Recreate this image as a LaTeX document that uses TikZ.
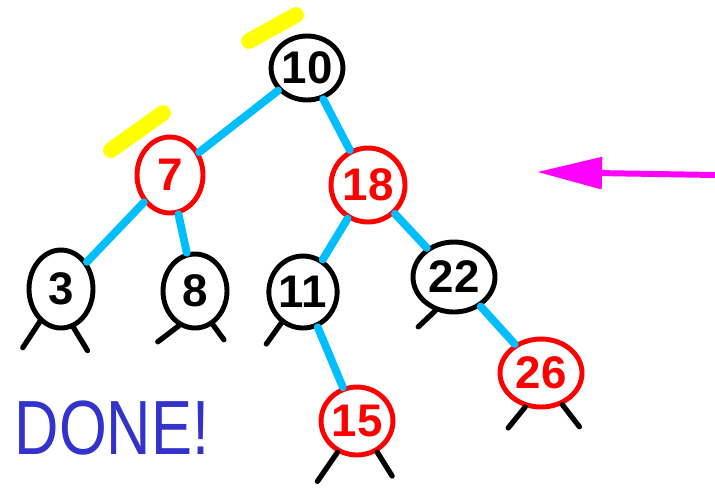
\documentclass[tikz,border=0pt]{standalone}
\usepackage{fontspec}
\setsansfont{Liberation Sans}
\usetikzlibrary{arrows.meta, shapes.geometric}
\definecolor{cred}{HTML}{FF0000}
\definecolor{ccyan}{HTML}{00BEFF}
\definecolor{cyellow}{HTML}{FFFF00}
\definecolor{cpink}{HTML}{FF00FF}
\definecolor{cink}{HTML}{3333CC}
\tikzset{
  every picture/.style={font=\sffamily, line cap=round, line join=round},
  key/.style={ellipse, draw=#1, text=#1, line width=2.8pt, inner sep=0pt, font=\sffamily\bfseries\fontsize{26}{26}\selectfont},
  key/.default=black,
  edge/.style={draw=ccyan, line width=4.5pt},
  nil/.style={draw=black, line width=3pt},
  halo/.style={draw=cyellow, line width=9pt},
  pointer/.style={draw=cpink, line width=3.4pt, -{Triangle[length=1.3cm, width=0.62cm]}},
  done/.style={text=cink, font=\sffamily\fontsize{35}{35}\selectfont, yscale=1.25},
}
\begin{document}
\begin{tikzpicture}[x=0.02cm, y=-0.02cm]
  \useasboundingbox (0,0) rectangle (715,488);
  % nodes, black and red
  \node[key, minimum width=1.20cm, minimum height=1.28cm] (n10) at (307,68) {10};
  \node[key=cred, minimum width=1.32cm, minimum height=1.52cm] (n7) at (170,175) {7};
  \node[key=cred, minimum width=1.48cm, minimum height=1.48cm] (n18) at (368,185) {18};
  \node[key, minimum width=1.28cm, minimum height=1.56cm] (n3) at (61,289) {3};
  \node[key, minimum width=1.28cm, minimum height=1.48cm] (n8) at (195,291) {8};
  \node[key, minimum width=1.16cm, minimum height=1.44cm] (n11) at (303,292) {11};
  \node[key, minimum width=1.64cm, minimum height=1.40cm] (n22) at (454,277) {22};
  \node[key=cred, minimum width=1.64cm, minimum height=1.36cm] (n26) at (541,373) {26};
  \node[key=cred, minimum width=1.28cm, minimum height=1.36cm] (n15) at (357,421) {15};
  % tree edges
  \draw[edge] (n10) -- (n7);
  \draw[edge] (n10) -- (n18);
  \draw[edge] (n7) -- (n3);
  \draw[edge] (n7) -- (n8);
  \draw[edge] (n18) -- (n11);
  \draw[edge] (n18) -- (n22);
  \draw[edge] (n11) -- (n15);
  \draw[edge] (n22) -- (n26);
  % nil leaves
  \draw[nil] (n3.237) -- ++(-17,26);
  \draw[nil] (n3.288) -- ++(14,23);
  \draw[nil] (n8.245) -- ++(-21,16);
  \draw[nil] (n8.298) -- ++(11,15);
  \draw[nil] (n11.235) -- ++(-15,21);
  \draw[nil] (n22.241) -- ++(-17,16);
  \draw[nil] (n26.245) -- ++(-17,21);
  \draw[nil] (n26.304) -- ++(17,22);
  \draw[nil] (n15.238) -- ++(-20,29);
  \draw[nil] (n15.303) -- ++(15,24);
  % halos
  \draw[halo] (249,41) -- (296,15);
  \draw[halo] (111,150) -- (163,113);
  % pointer
  \coordinate (tail) at (715,175);
  \coordinate (tip) at (537,172);
  \draw[pointer] (tail) -- (tip);
  \node[done] (doneNote) at (112,428) {DONE!};
\end{tikzpicture}
\end{document}
